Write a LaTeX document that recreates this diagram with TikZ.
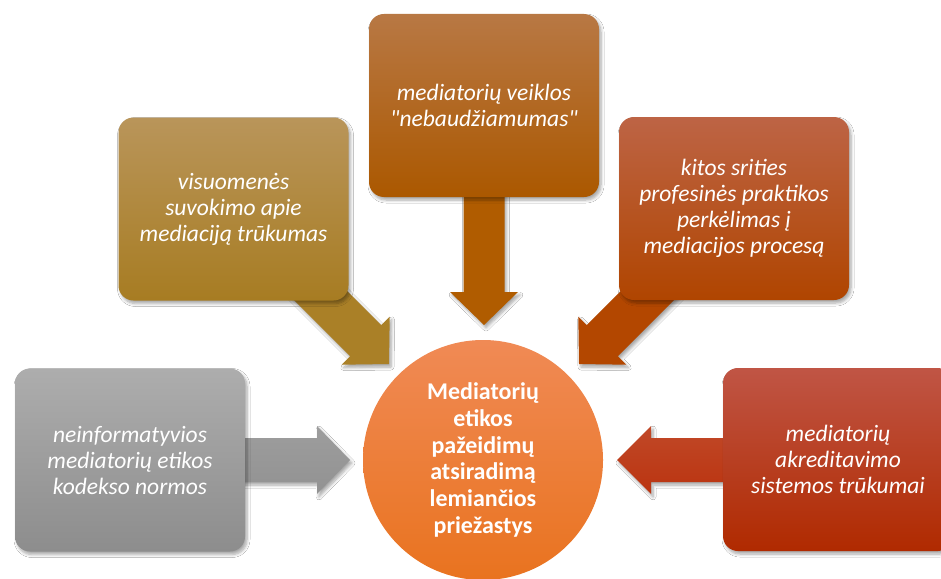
\documentclass[tikz,border=0pt]{standalone}
\usepackage{fontspec}
\setmainfont{Carlito}[Ligatures=TeXOff]
\usetikzlibrary{calc,shadows.blur}
\definecolor{grayT}{HTML}{ADADAD}
\definecolor{grayB}{HTML}{8D8D8D}
\definecolor{goldT}{HTML}{B9955A}
\definecolor{goldB}{HTML}{A77C22}
\definecolor{brT}{HTML}{B87844}
\definecolor{brB}{HTML}{AB5800}
\definecolor{rtT}{HTML}{BD6445}
\definecolor{rtB}{HTML}{B04500}
\definecolor{rbT}{HTML}{C05545}
\definecolor{rbB}{HTML}{B02A00}
\definecolor{ciT}{HTML}{F08A55}
\definecolor{ciB}{HTML}{E9731F}
\definecolor{arGray}{HTML}{A2A2A2}
\definecolor{arGold}{HTML}{AA8027}
\definecolor{arBr}{HTML}{B05C00}
\definecolor{arRt}{HTML}{B34700}
\definecolor{arRb}{HTML}{BA3410}
\tikzset{
  shad/.style={blur shadow={shadow xshift=2pt,shadow yshift=-3pt,shadow opacity=35,shadow blur radius=3pt,shadow blur steps=6}},
  box/.style={shad,rounded corners=15pt,minimum width=230pt,minimum height=183pt,inner sep=0pt,
    align=center,text=white,font=\fontsize{23.5}{26}\selectfont\itshape},
  blockarr/.style={shad},
}
\begin{document}
\begin{tikzpicture}[x=1pt,y=-1pt]
\useasboundingbox (0,0) rectangle (941,578);
\fill[white] (0,0) rectangle (941,578);
% arrows
\path[blockarr,top color=arGray!105,bottom color=arGray!90!black] (350,460) -- (317,426) -- (317,438) -- (230,438) -- (230,482) -- (317,482) -- (317,494) -- cycle;
\path[blockarr,top color=arRb!90!white,bottom color=arRb] (617,460) -- (651,426) -- (651,438) -- (740,438) -- (740,482) -- (651,482) -- (651,494) -- cycle;
\path[blockarr,fill=arBr] (484,325) -- (450,292) -- (463.5,292) -- (463.5,180) -- (504.5,180) -- (504.5,292) -- (518,292) -- cycle;
\path[blockarr,fill=arGold] (389,364) -- (389.7,316.7) -- (381.3,325.1) -- (312.7,256.5) -- (281.5,287.7) -- (350.1,356.3) -- (341.7,364.7) -- cycle;
\path[blockarr,fill=arRt] (579,364) -- (578.3,316.7) -- (586.7,325.1) -- (655.3,256.5) -- (686.5,287.7) -- (617.9,356.3) -- (626.3,364.7) -- cycle;
% boxes
\node[box,top color=grayT,bottom color=grayB] (gray) at (130,460) {neinformatyvios\\mediatorių etikos\\kodekso normos};
\node[box,top color=goldT,bottom color=goldB] (gold) at (233.5,209) {visuomenės\\suvokimo apie\\mediaciją trūkumas};
\node[box,top color=brT,bottom color=brB] (top) at (484,105.5) {mediatorių veiklos\\"nebaudžiamumas"};
\node[box,top color=rtT,bottom color=rtB] (rtop) at (734,208.5) {kitos srities\\profesinės praktikos\\perkėlimas į\\mediacijos procesą};
\node[box,top color=rbT,bottom color=rbB] (rbot) at (838,459.5) {mediatorių\\akreditavimo\\sistemos trūkumai};
% circle
\node[circle,minimum size=240pt,inner sep=0pt,top color=ciT,bottom color=ciB,align=center,text=white,
  font=\fontsize{24}{26.7}\selectfont\bfseries] (c) at (483,460)
  {Mediatorių\\etikos\\pažeidimų\\atsiradimą\\lemiančios\\priežastys};
\end{tikzpicture}
\end{document}
